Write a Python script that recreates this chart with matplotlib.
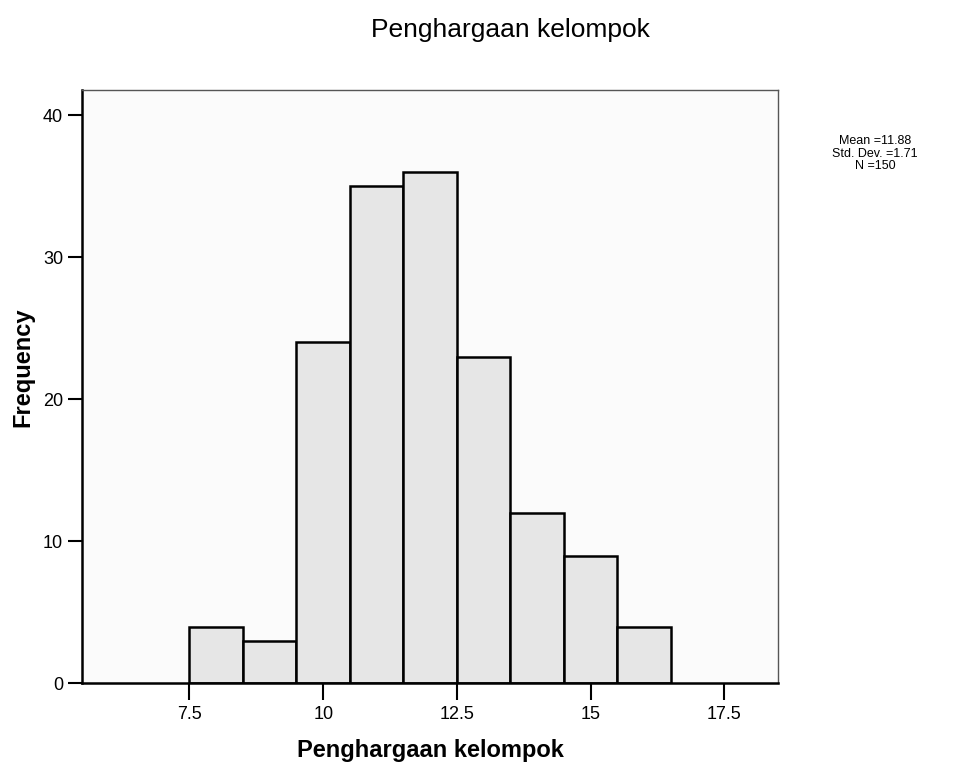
import matplotlib.pyplot as plt

plt.rcParams['font.family'] = ['Liberation Sans', 'DejaVu Sans']

# histogram of scores, bins of width 1
bin_centers = [8, 9, 10, 11, 12, 13, 14, 15, 16]
counts = [4, 3, 24, 35, 36, 23, 12, 9, 4]
x_ticks = [7.5, 10, 12.5, 15, 17.5]
x_tick_labels = ['7.5', '10', '12.5', '15', '17.5']
y_ticks = [0, 10, 20, 30, 40]
stats_lines = ['Mean =11.88', 'Std. Dev. =1.71', 'N =150']


def main():
    fig = plt.figure(figsize=(9.7, 7.73), dpi=100)
    ax = fig.add_axes([0.085, 0.116, 0.717, 0.768])
    ax.set_facecolor('#fbfbfb')

    ax.bar(bin_centers, counts, width=1.0, color='#e6e6e6',
           edgecolor='black', linewidth=1.8, zorder=2)

    ax.set_xlim(5.5, 18.5)
    ax.set_ylim(0, 41.8)
    ax.set_xticks(x_ticks)
    ax.set_xticklabels(x_tick_labels)
    ax.set_yticks(y_ticks)

    ax.tick_params(axis='both', direction='out', length=10, width=1.5,
                   labelsize=13, pad=4)
    ax.tick_params(axis='x', length=12)

    for side in ['left', 'bottom']:
        ax.spines[side].set_linewidth(1.8)
        ax.spines[side].set_color('black')
    for side in ['top', 'right']:
        ax.spines[side].set_linewidth(1.0)
        ax.spines[side].set_color('#555555')
        ax.spines[side].set_linestyle((0, (3, 1)))

    ax.set_xlabel('Penghargaan kelompok', fontsize=17, fontweight='bold',
                  labelpad=12)
    # y label placed by hand so it stays inside the figure
    fig.text(0.024, 0.525, 'Frequency', fontsize=17, fontweight='bold',
             rotation=90, ha='center', va='center')

    fig.text(0.526, 0.961, 'Penghargaan kelompok', fontsize=19,
             ha='center', va='center')
    fig.text(0.902, 0.825, '\n'.join(stats_lines), fontsize=9,
             ha='center', va='top', linespacing=1.05)

    fig.savefig('out.png', dpi=100)


if __name__ == "__main__":
    main()
